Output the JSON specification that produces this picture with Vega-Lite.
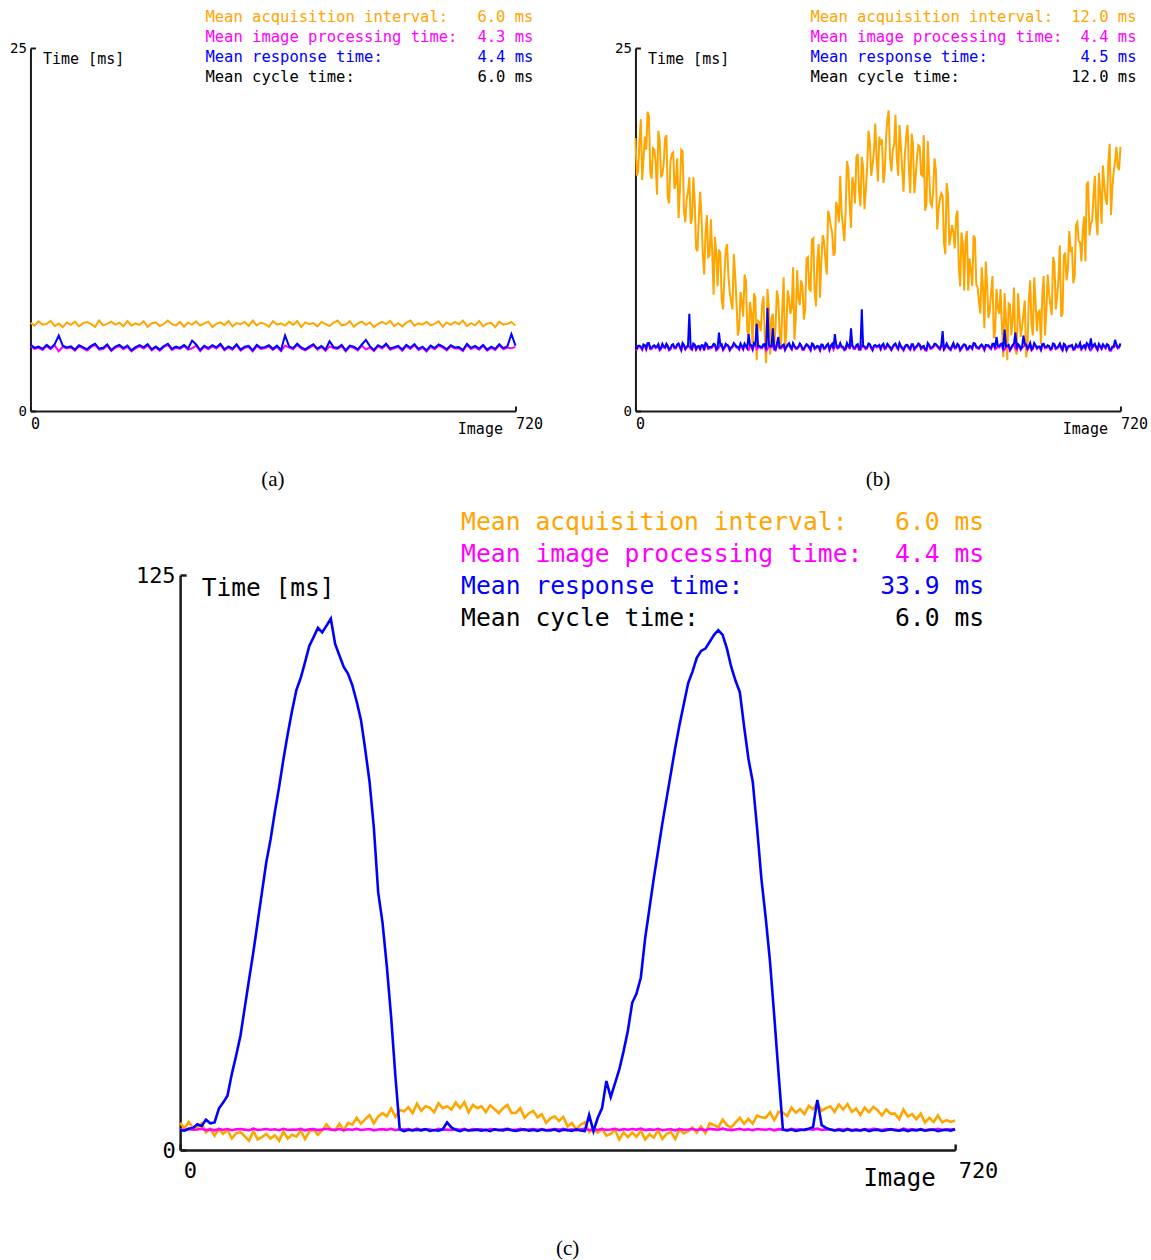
{
"$schema": "https://vega.github.io/schema/vega-lite/v6.json",
"padding": {"left": 9, "top": 10, "right": 0, "bottom": 4},
"background": "white",
"config": {"view": {"stroke": null}, "axis": {"grid": false, "domainColor": "#1a1a1a", "tickColor": "#1a1a1a", "labelColor": "#000000", "titleColor": "#000000", "labelFont": "DejaVu Sans Mono", "titleFont": "DejaVu Sans Mono", "titleFontWeight": "normal", "labelFlush": false}},
"datasets": {
"statsA": [{"stat": "Mean acquisition interval:", "val": "6.0 ms", "series": "acq"}, {"stat": "Mean image processing time:", "val": "4.3 ms", "series": "proc"}, {"stat": "Mean response time:", "val": "4.4 ms", "series": "resp"}, {"stat": "Mean cycle time:", "val": "6.0 ms", "series": "cycle"}],
"statsB": [{"stat": "Mean acquisition interval:", "val": "12.0 ms", "series": "acq"}, {"stat": "Mean image processing time:", "val": "4.4 ms", "series": "proc"}, {"stat": "Mean response time:", "val": "4.5 ms", "series": "resp"}, {"stat": "Mean cycle time:", "val": "12.0 ms", "series": "cycle"}],
"statsC": [{"stat": "Mean acquisition interval:", "val": "6.0 ms", "series": "acq"}, {"stat": "Mean image processing time:", "val": "4.4 ms", "series": "proc"}, {"stat": "Mean response time:", "val": "33.9 ms", "series": "resp"}, {"stat": "Mean cycle time:", "val": "6.0 ms", "series": "cycle"}],
"panelA": [
{"img":0,"acq":6.08,"proc":4.50,"resp":4.58},{"img":6,"acq":5.88,"proc":4.27,"resp":4.35},{"img":12,"acq":6.18,"proc":4.35,"resp":4.43},{"img":18,"acq":5.95,"proc":4.20,"resp":4.28},{"img":24,"acq":6.00,"proc":4.47,"resp":4.55},{"img":30,"acq":6.20,"proc":4.25,"resp":4.33},{"img":36,"acq":5.85,"proc":4.52,"resp":4.60},{"img":42,"acq":6.03,"proc":4.10,"resp":5.2},{"img":48,"acq":5.78,"proc":4.42,"resp":4.50},{"img":54,"acq":6.10,"proc":4.30,"resp":4.38},
{"img":60,"acq":5.93,"proc":4.37,"resp":4.45},{"img":66,"acq":6.15,"proc":4.15,"resp":4.23},{"img":72,"acq":5.83,"proc":4.45,"resp":4.53},{"img":78,"acq":6.05,"proc":4.32,"resp":4.40},{"img":84,"acq":6.13,"proc":4.17,"resp":4.25},{"img":90,"acq":5.98,"proc":4.40,"resp":4.48},{"img":96,"acq":5.80,"proc":4.55,"resp":4.63},{"img":102,"acq":6.23,"proc":4.22,"resp":4.30},{"img":108,"acq":5.90,"proc":4.27,"resp":4.35},{"img":114,"acq":6.00,"proc":4.50,"resp":4.58},
{"img":120,"acq":6.15,"proc":4.12,"resp":4.20},{"img":126,"acq":5.95,"proc":4.35,"resp":4.43},{"img":132,"acq":6.08,"proc":4.47,"resp":4.55},{"img":138,"acq":5.83,"proc":4.25,"resp":4.33},{"img":144,"acq":6.20,"proc":4.42,"resp":4.50},{"img":150,"acq":5.88,"proc":4.10,"resp":4.18},{"img":156,"acq":6.03,"proc":4.32,"resp":4.40},{"img":162,"acq":5.93,"proc":4.45,"resp":4.53},{"img":168,"acq":6.18,"proc":4.30,"resp":4.38},{"img":174,"acq":5.78,"proc":4.52,"resp":4.60},
{"img":180,"acq":6.05,"proc":4.17,"resp":4.25},{"img":186,"acq":6.10,"proc":4.37,"resp":4.45},{"img":192,"acq":5.85,"proc":4.15,"resp":4.23},{"img":198,"acq":6.00,"proc":4.40,"resp":4.48},{"img":204,"acq":6.23,"proc":4.55,"resp":4.63},{"img":210,"acq":5.98,"proc":4.20,"resp":4.28},{"img":216,"acq":5.90,"proc":4.35,"resp":4.43},{"img":222,"acq":6.13,"proc":4.27,"resp":4.35},{"img":228,"acq":5.80,"proc":4.47,"resp":4.55},{"img":234,"acq":6.08,"proc":4.22,"resp":4.30},
{"img":240,"acq":5.95,"proc":4.32,"resp":4.85},{"img":246,"acq":6.18,"proc":4.50,"resp":4.58},{"img":252,"acq":5.88,"proc":4.12,"resp":4.20},{"img":258,"acq":6.03,"proc":4.42,"resp":4.50},{"img":264,"acq":6.15,"proc":4.25,"resp":4.33},{"img":270,"acq":5.78,"proc":4.45,"resp":4.53},{"img":276,"acq":6.00,"proc":4.30,"resp":4.38},{"img":282,"acq":6.10,"proc":4.55,"resp":4.63},{"img":288,"acq":5.93,"proc":4.17,"resp":4.25},{"img":294,"acq":6.20,"proc":4.37,"resp":4.45},
{"img":300,"acq":5.83,"proc":4.22,"resp":4.30},{"img":306,"acq":6.05,"proc":4.52,"resp":4.60},{"img":312,"acq":5.98,"proc":4.15,"resp":4.23},{"img":318,"acq":6.13,"proc":4.35,"resp":4.43},{"img":324,"acq":5.85,"proc":4.40,"resp":4.48},{"img":330,"acq":6.23,"proc":4.10,"resp":4.18},{"img":336,"acq":5.90,"proc":4.47,"resp":4.55},{"img":342,"acq":6.08,"proc":4.27,"resp":4.35},{"img":348,"acq":6.00,"proc":4.32,"resp":4.40},{"img":354,"acq":5.80,"proc":4.45,"resp":4.53},
{"img":360,"acq":6.18,"proc":4.20,"resp":4.28},{"img":366,"acq":5.95,"proc":4.42,"resp":4.50},{"img":372,"acq":6.03,"proc":4.12,"resp":4.20},{"img":378,"acq":5.88,"proc":4.50,"resp":5.2},{"img":384,"acq":6.15,"proc":4.37,"resp":4.45},{"img":390,"acq":5.93,"proc":4.25,"resp":4.33},{"img":396,"acq":6.20,"proc":4.55,"resp":4.63},{"img":402,"acq":5.78,"proc":4.30,"resp":4.38},{"img":408,"acq":6.10,"proc":4.17,"resp":4.25},{"img":414,"acq":5.98,"proc":4.35,"resp":4.43},
{"img":420,"acq":6.05,"proc":4.52,"resp":4.60},{"img":426,"acq":5.83,"proc":4.22,"resp":4.30},{"img":432,"acq":6.13,"proc":4.40,"resp":4.48},{"img":438,"acq":6.00,"proc":4.15,"resp":4.23},{"img":444,"acq":5.85,"proc":4.45,"resp":4.8},{"img":450,"acq":6.08,"proc":4.32,"resp":4.40},{"img":456,"acq":6.23,"proc":4.27,"resp":4.35},{"img":462,"acq":5.90,"proc":4.47,"resp":4.55},{"img":468,"acq":5.95,"proc":4.10,"resp":4.18},{"img":474,"acq":6.18,"proc":4.42,"resp":4.50},
{"img":480,"acq":5.80,"proc":4.35,"resp":4.43},{"img":486,"acq":6.03,"proc":4.17,"resp":4.25},{"img":492,"acq":6.15,"proc":4.50,"resp":4.58},{"img":498,"acq":5.93,"proc":4.25,"resp":4.9},{"img":504,"acq":6.10,"proc":4.37,"resp":4.45},{"img":510,"acq":5.78,"proc":4.12,"resp":4.20},{"img":516,"acq":6.00,"proc":4.45,"resp":4.53},{"img":522,"acq":6.13,"proc":4.30,"resp":4.38},{"img":528,"acq":5.98,"proc":4.55,"resp":4.63},{"img":534,"acq":6.20,"proc":4.22,"resp":4.30},
{"img":540,"acq":5.85,"proc":4.32,"resp":4.40},{"img":546,"acq":6.05,"proc":4.40,"resp":4.48},{"img":552,"acq":5.83,"proc":4.15,"resp":4.23},{"img":558,"acq":6.08,"proc":4.47,"resp":4.55},{"img":564,"acq":6.23,"proc":4.27,"resp":4.35},{"img":570,"acq":5.88,"proc":4.52,"resp":4.60},{"img":576,"acq":6.03,"proc":4.20,"resp":4.28},{"img":582,"acq":5.95,"proc":4.35,"resp":4.43},{"img":588,"acq":6.15,"proc":4.10,"resp":4.18},{"img":594,"acq":5.90,"proc":4.42,"resp":4.50},
{"img":600,"acq":6.00,"proc":4.25,"resp":4.33},{"img":606,"acq":6.18,"proc":4.50,"resp":4.58},{"img":612,"acq":5.80,"proc":4.37,"resp":4.45},{"img":618,"acq":6.10,"proc":4.17,"resp":4.25},{"img":624,"acq":5.93,"proc":4.45,"resp":4.53},{"img":630,"acq":6.13,"proc":4.30,"resp":4.38},{"img":636,"acq":5.98,"proc":4.32,"resp":4.40},{"img":642,"acq":6.23,"proc":4.12,"resp":4.20},{"img":648,"acq":5.85,"proc":4.55,"resp":4.63},{"img":654,"acq":6.05,"proc":4.27,"resp":4.35},
{"img":660,"acq":5.90,"proc":4.40,"resp":4.48},{"img":666,"acq":6.20,"proc":4.22,"resp":4.30},{"img":672,"acq":5.83,"proc":4.47,"resp":4.55},{"img":678,"acq":6.03,"proc":4.15,"resp":4.23},{"img":684,"acq":6.08,"proc":4.35,"resp":4.43},{"img":690,"acq":5.78,"proc":4.20,"resp":4.28},{"img":696,"acq":6.15,"proc":4.52,"resp":4.60},{"img":702,"acq":5.95,"proc":4.25,"resp":4.33},{"img":708,"acq":6.00,"proc":4.37,"resp":4.45},{"img":714,"acq":6.13,"proc":4.32,"resp":5.3},
{"img":720,"acq":5.88,"proc":4.42,"resp":4.50}],
"panelB": [
{"img":0,"acq":18.8,"proc":4.20,"resp":4.28},{"img":4,"acq":16.5,"proc":4.42,"resp":4.50},{"img":8,"acq":20.1,"proc":4.35,"resp":4.43},{"img":12,"acq":17.4,"proc":4.50,"resp":4.58},{"img":16,"acq":18.0,"proc":4.22,"resp":4.30},{"img":20,"acq":20.3,"proc":4.60,"resp":4.68},{"img":24,"acq":16.0,"proc":4.27,"resp":4.35},{"img":28,"acq":18.0,"proc":4.45,"resp":4.53},{"img":32,"acq":14.9,"proc":4.37,"resp":4.45},{"img":36,"acq":18.6,"proc":4.17,"resp":4.25},
{"img":40,"acq":16.3,"proc":4.55,"resp":4.63},{"img":44,"acq":18.8,"proc":4.32,"resp":4.40},{"img":48,"acq":14.7,"proc":4.40,"resp":4.48},{"img":52,"acq":17.2,"proc":4.25,"resp":4.33},{"img":56,"acq":17.8,"proc":4.52,"resp":4.60},{"img":60,"acq":15.7,"proc":4.30,"resp":4.38},{"img":64,"acq":13.3,"proc":4.57,"resp":4.65},{"img":68,"acq":18.0,"proc":4.15,"resp":4.23},{"img":72,"acq":13.8,"proc":4.47,"resp":4.55},{"img":76,"acq":14.6,"proc":4.35,"resp":4.43},
{"img":80,"acq":16.1,"proc":4.42,"resp":6.7},{"img":84,"acq":13.3,"proc":4.20,"resp":4.28},{"img":88,"acq":14.4,"proc":4.50,"resp":4.58},{"img":92,"acq":11.0,"proc":4.37,"resp":4.45},{"img":96,"acq":15.1,"proc":4.22,"resp":4.30},{"img":100,"acq":10.8,"proc":4.45,"resp":4.53},{"img":104,"acq":12.2,"proc":4.60,"resp":4.68},{"img":108,"acq":10.6,"proc":4.27,"resp":4.35},{"img":112,"acq":13.2,"proc":4.32,"resp":4.40},{"img":116,"acq":8.0,"proc":4.55,"resp":4.63},
{"img":120,"acq":10.9,"proc":4.17,"resp":4.25},{"img":124,"acq":11.1,"proc":4.40,"resp":5.4},{"img":128,"acq":7.7,"proc":4.52,"resp":4.60},{"img":132,"acq":9.2,"proc":4.30,"resp":4.38},{"img":136,"acq":11.5,"proc":4.47,"resp":4.55},{"img":140,"acq":8.2,"proc":4.15,"resp":4.23},{"img":144,"acq":7.0,"proc":4.37,"resp":4.45},{"img":148,"acq":9.4,"proc":4.50,"resp":4.58},{"img":152,"acq":5.2,"proc":4.35,"resp":4.43},{"img":156,"acq":8.2,"proc":4.57,"resp":4.65},
{"img":160,"acq":6.5,"proc":4.22,"resp":4.30},{"img":164,"acq":9.0,"proc":4.42,"resp":4.50},{"img":168,"acq":5.2,"proc":4.20,"resp":5.3},{"img":172,"acq":6.8,"proc":4.45,"resp":4.53},{"img":176,"acq":8.1,"proc":4.60,"resp":4.68},{"img":180,"acq":3.5,"proc":4.25,"resp":6.0},{"img":184,"acq":6.1,"proc":4.40,"resp":4.48},{"img":188,"acq":7.3,"proc":4.32,"resp":4.40},{"img":192,"acq":5.1,"proc":4.52,"resp":4.60},{"img":196,"acq":8.4,"proc":4.27,"resp":7.1},
{"img":200,"acq":3.9,"proc":4.37,"resp":4.45},{"img":204,"acq":6.7,"proc":4.55,"resp":5.7},{"img":208,"acq":5.8,"proc":4.17,"resp":4.25},{"img":212,"acq":7.7,"proc":4.47,"resp":5.1},{"img":216,"acq":4.5,"proc":4.30,"resp":4.38},{"img":220,"acq":9.2,"proc":4.50,"resp":4.58},{"img":224,"acq":5.5,"proc":4.35,"resp":4.43},{"img":228,"acq":7.8,"proc":4.60,"resp":4.68},{"img":232,"acq":7.1,"proc":4.22,"resp":4.30},{"img":236,"acq":4.9,"proc":4.42,"resp":4.50},
{"img":240,"acq":9.7,"proc":4.27,"resp":4.35},{"img":244,"acq":7.3,"proc":4.57,"resp":4.65},{"img":248,"acq":8.5,"proc":4.20,"resp":4.28},{"img":252,"acq":7.0,"proc":4.40,"resp":4.48},{"img":256,"acq":10.6,"proc":4.45,"resp":4.53},{"img":260,"acq":8.3,"proc":4.15,"resp":4.23},{"img":264,"acq":11.9,"proc":4.52,"resp":4.60},{"img":268,"acq":7.2,"proc":4.32,"resp":4.40},{"img":272,"acq":11.5,"proc":4.37,"resp":4.45},{"img":276,"acq":10.4,"proc":4.50,"resp":4.58},
{"img":280,"acq":11.7,"proc":4.25,"resp":4.33},{"img":284,"acq":9.4,"proc":4.47,"resp":4.55},{"img":288,"acq":13.4,"proc":4.17,"resp":4.25},{"img":292,"acq":12.3,"proc":4.55,"resp":4.63},{"img":296,"acq":10.9,"proc":4.42,"resp":5.3},{"img":300,"acq":14.0,"proc":4.30,"resp":4.38},{"img":304,"acq":16.2,"proc":4.60,"resp":4.68},{"img":308,"acq":12.7,"proc":4.35,"resp":4.43},{"img":312,"acq":13.7,"proc":4.22,"resp":4.30},{"img":316,"acq":16.7,"proc":4.40,"resp":4.48},
{"img":320,"acq":12.6,"proc":4.57,"resp":5.7},{"img":324,"acq":15.6,"proc":4.27,"resp":4.35},{"img":328,"acq":17.5,"proc":4.45,"resp":4.53},{"img":332,"acq":15.1,"proc":4.20,"resp":4.28},{"img":336,"acq":17.5,"proc":4.50,"resp":7.0},{"img":340,"acq":13.9,"proc":4.37,"resp":4.45},{"img":344,"acq":16.8,"proc":4.32,"resp":4.40},{"img":348,"acq":18.5,"proc":4.52,"resp":4.60},{"img":352,"acq":16.9,"proc":4.15,"resp":4.23},{"img":356,"acq":19.8,"proc":4.47,"resp":4.55},
{"img":360,"acq":15.8,"proc":4.40,"resp":4.48},{"img":364,"acq":18.3,"proc":4.22,"resp":4.30},{"img":368,"acq":15.7,"proc":4.55,"resp":4.63},{"img":372,"acq":18.8,"proc":4.30,"resp":4.38},{"img":376,"acq":20.7,"proc":4.42,"resp":4.50},{"img":380,"acq":16.5,"proc":4.17,"resp":4.25},{"img":384,"acq":18.3,"proc":4.50,"resp":4.58},{"img":388,"acq":17.4,"proc":4.35,"resp":4.43},{"img":392,"acq":19.7,"proc":4.60,"resp":4.68},{"img":396,"acq":16.6,"proc":4.27,"resp":4.35},
{"img":400,"acq":17.7,"proc":4.37,"resp":4.45},{"img":404,"acq":19.7,"proc":4.45,"resp":4.53},{"img":408,"acq":15.0,"proc":4.20,"resp":4.28},{"img":412,"acq":18.4,"proc":4.52,"resp":4.60},{"img":416,"acq":16.1,"proc":4.32,"resp":4.40},{"img":420,"acq":18.3,"proc":4.57,"resp":4.65},{"img":424,"acq":16.3,"proc":4.25,"resp":4.33},{"img":428,"acq":19.0,"proc":4.40,"resp":4.48},{"img":432,"acq":14.2,"proc":4.15,"resp":4.23},{"img":436,"acq":16.3,"proc":4.47,"resp":4.55},
{"img":440,"acq":14.1,"proc":4.30,"resp":4.38},{"img":444,"acq":17.4,"proc":4.55,"resp":4.63},{"img":448,"acq":12.5,"proc":4.42,"resp":4.50},{"img":452,"acq":14.6,"proc":4.22,"resp":4.30},{"img":456,"acq":14.8,"proc":4.50,"resp":5.5},{"img":460,"acq":10.8,"proc":4.35,"resp":4.43},{"img":464,"acq":14.9,"proc":4.37,"resp":4.45},{"img":468,"acq":12.1,"proc":4.17,"resp":4.25},{"img":472,"acq":12.3,"proc":4.60,"resp":4.68},{"img":476,"acq":13.4,"proc":4.32,"resp":4.40},
{"img":480,"acq":10.0,"proc":4.45,"resp":4.53},{"img":484,"acq":12.3,"proc":4.27,"resp":4.35},{"img":488,"acq":8.3,"proc":4.52,"resp":4.60},{"img":492,"acq":12.4,"proc":4.20,"resp":4.28},{"img":496,"acq":10.5,"proc":4.40,"resp":4.48},{"img":500,"acq":8.6,"proc":4.25,"resp":4.33},{"img":504,"acq":11.9,"proc":4.57,"resp":4.65},{"img":508,"acq":8.5,"proc":4.30,"resp":4.38},{"img":512,"acq":6.7,"proc":4.42,"resp":4.50},{"img":516,"acq":8.5,"proc":4.37,"resp":4.45},
{"img":520,"acq":10.3,"proc":4.47,"resp":4.55},{"img":524,"acq":6.4,"proc":4.45,"resp":4.53},{"img":528,"acq":8.2,"proc":4.25,"resp":4.33},{"img":532,"acq":5.0,"proc":4.55,"resp":4.63},{"img":536,"acq":8.4,"proc":4.32,"resp":5.1},{"img":540,"acq":6.7,"proc":4.37,"resp":4.45},{"img":544,"acq":5.9,"proc":4.57,"resp":4.65},{"img":548,"acq":8.1,"proc":4.22,"resp":5.6},{"img":552,"acq":3.5,"proc":4.40,"resp":4.48},{"img":556,"acq":7.3,"proc":4.15,"resp":4.23},
{"img":560,"acq":6.4,"proc":4.47,"resp":4.55},{"img":564,"acq":4.2,"proc":4.30,"resp":5.4},{"img":568,"acq":8.1,"proc":4.52,"resp":4.60},{"img":572,"acq":5.1,"proc":4.20,"resp":4.28},{"img":576,"acq":6.7,"proc":4.42,"resp":5.2},{"img":580,"acq":3.7,"proc":4.50,"resp":4.58},{"img":584,"acq":7.7,"proc":4.35,"resp":4.43},{"img":588,"acq":6.0,"proc":4.17,"resp":4.25},{"img":592,"acq":9.2,"proc":4.60,"resp":4.68},{"img":596,"acq":5.5,"proc":4.27,"resp":4.35},
{"img":600,"acq":6.9,"proc":4.37,"resp":4.45},{"img":604,"acq":8.0,"proc":4.52,"resp":4.60},{"img":608,"acq":5.2,"proc":4.32,"resp":4.40},{"img":612,"acq":9.4,"proc":4.45,"resp":4.53},{"img":616,"acq":7.3,"proc":4.20,"resp":4.28},{"img":620,"acq":10.6,"proc":4.57,"resp":4.65},{"img":624,"acq":7.0,"proc":4.25,"resp":4.33},{"img":628,"acq":9.1,"proc":4.40,"resp":4.48},{"img":632,"acq":6.5,"proc":4.30,"resp":4.38},{"img":636,"acq":10.7,"proc":4.55,"resp":4.63},
{"img":640,"acq":9.0,"proc":4.15,"resp":4.23},{"img":644,"acq":12.4,"proc":4.42,"resp":4.50},{"img":648,"acq":11.3,"proc":4.47,"resp":4.55},{"img":652,"acq":9.3,"proc":4.22,"resp":4.30},{"img":656,"acq":13.0,"proc":4.37,"resp":4.45},{"img":660,"acq":11.6,"proc":4.60,"resp":4.68},{"img":664,"acq":12.3,"proc":4.35,"resp":4.43},{"img":668,"acq":10.3,"proc":4.27,"resp":4.35},{"img":672,"acq":15.8,"proc":4.50,"resp":4.58},{"img":676,"acq":12.9,"proc":4.17,"resp":5.0},
{"img":680,"acq":14.8,"proc":4.45,"resp":4.53},{"img":684,"acq":13.1,"proc":4.32,"resp":4.40},{"img":688,"acq":16.4,"proc":4.55,"resp":4.63},{"img":692,"acq":12.9,"proc":4.25,"resp":4.33},{"img":696,"acq":15.6,"proc":4.40,"resp":4.48},{"img":700,"acq":14.2,"proc":4.52,"resp":4.60},{"img":704,"acq":18.4,"proc":4.15,"resp":4.23},{"img":708,"acq":15.4,"proc":4.37,"resp":4.45},{"img":712,"acq":17.2,"proc":4.47,"resp":4.9},{"img":716,"acq":16.8,"proc":4.30,"resp":4.38},
{"img":720,"acq":18.2,"proc":4.57,"resp":4.65},
{"img":2,"acq":16.2,"proc":4.22,"resp":4.30},{"img":6,"acq":18.6,"proc":4.42,"resp":4.50},{"img":10,"acq":15.9,"proc":4.20,"resp":4.28},{"img":14,"acq":18.9,"proc":4.45,"resp":4.53},{"img":18,"acq":20.6,"proc":4.60,"resp":4.68},{"img":22,"acq":16.4,"proc":4.25,"resp":4.33},{"img":26,"acq":18.1,"proc":4.40,"resp":4.48},{"img":30,"acq":17.1,"proc":4.32,"resp":4.40},{"img":34,"acq":19.3,"proc":4.52,"resp":4.60},{"img":38,"acq":16.1,"proc":4.27,"resp":4.35},
{"img":42,"acq":17.1,"proc":4.37,"resp":4.45},{"img":46,"acq":19.0,"proc":4.55,"resp":4.63},{"img":50,"acq":14.3,"proc":4.17,"resp":4.25},{"img":54,"acq":17.7,"proc":4.47,"resp":4.55},{"img":58,"acq":15.3,"proc":4.30,"resp":4.38},{"img":62,"acq":17.4,"proc":4.50,"resp":4.58},{"img":66,"acq":15.2,"proc":4.35,"resp":4.43},{"img":70,"acq":17.9,"proc":4.60,"resp":4.68},{"img":74,"acq":13.0,"proc":4.22,"resp":4.30},{"img":78,"acq":15.1,"proc":4.42,"resp":4.50},
{"img":82,"acq":12.9,"proc":4.27,"resp":4.35},{"img":86,"acq":16.1,"proc":4.57,"resp":4.65},{"img":90,"acq":11.2,"proc":4.20,"resp":4.28},{"img":94,"acq":13.2,"proc":4.40,"resp":4.48},{"img":98,"acq":13.4,"proc":4.45,"resp":4.53},{"img":102,"acq":9.4,"proc":4.15,"resp":4.23},{"img":106,"acq":13.5,"proc":4.52,"resp":4.60},{"img":110,"acq":10.7,"proc":4.32,"resp":4.40},{"img":114,"acq":10.9,"proc":4.37,"resp":4.45},{"img":118,"acq":12.0,"proc":4.50,"resp":4.58},
{"img":122,"acq":8.6,"proc":4.25,"resp":4.33},{"img":126,"acq":10.9,"proc":4.47,"resp":4.55},{"img":130,"acq":7.0,"proc":4.17,"resp":4.25},{"img":134,"acq":11.1,"proc":4.55,"resp":4.63},{"img":138,"acq":9.3,"proc":4.42,"resp":4.50},{"img":142,"acq":7.5,"proc":4.30,"resp":4.38},{"img":146,"acq":10.8,"proc":4.60,"resp":4.68},{"img":150,"acq":7.5,"proc":4.35,"resp":4.43},{"img":154,"acq":5.7,"proc":4.22,"resp":4.30},{"img":158,"acq":7.5,"proc":4.40,"resp":4.48},
{"img":162,"acq":9.4,"proc":4.57,"resp":4.65},{"img":166,"acq":5.6,"proc":4.27,"resp":4.35},{"img":170,"acq":7.5,"proc":4.45,"resp":4.53},{"img":174,"acq":4.3,"proc":4.20,"resp":4.28},{"img":178,"acq":7.8,"proc":4.50,"resp":4.58},{"img":182,"acq":6.2,"proc":4.37,"resp":4.45},{"img":186,"acq":5.5,"proc":4.32,"resp":4.40},{"img":190,"acq":7.9,"proc":4.52,"resp":4.60},{"img":194,"acq":3.3,"proc":4.15,"resp":4.23},{"img":198,"acq":7.2,"proc":4.47,"resp":4.55},
{"img":202,"acq":6.4,"proc":4.40,"resp":4.48},{"img":206,"acq":4.3,"proc":4.22,"resp":4.30},{"img":210,"acq":8.3,"proc":4.55,"resp":4.63},{"img":214,"acq":5.4,"proc":4.30,"resp":4.38},{"img":218,"acq":7.0,"proc":4.42,"resp":4.50},{"img":222,"acq":4.2,"proc":4.17,"resp":4.25},{"img":226,"acq":8.3,"proc":4.50,"resp":4.58},{"img":230,"acq":6.7,"proc":4.35,"resp":4.43},{"img":234,"acq":9.9,"proc":4.60,"resp":4.68},{"img":238,"acq":6.3,"proc":4.27,"resp":4.35},
{"img":242,"acq":7.8,"proc":4.37,"resp":4.45},{"img":246,"acq":9.0,"proc":4.45,"resp":4.53},{"img":250,"acq":6.3,"proc":4.20,"resp":4.28},{"img":254,"acq":10.5,"proc":4.52,"resp":4.60},{"img":258,"acq":8.4,"proc":4.32,"resp":4.40},{"img":262,"acq":11.8,"proc":4.57,"resp":4.65},{"img":266,"acq":8.2,"proc":4.25,"resp":4.33},{"img":270,"acq":10.4,"proc":4.40,"resp":4.48},{"img":274,"acq":7.8,"proc":4.15,"resp":4.23},{"img":278,"acq":12.1,"proc":4.47,"resp":4.55},
{"img":282,"acq":10.4,"proc":4.30,"resp":4.38},{"img":286,"acq":13.8,"proc":4.55,"resp":4.63},{"img":290,"acq":12.7,"proc":4.42,"resp":4.50},{"img":294,"acq":10.7,"proc":4.22,"resp":4.30},{"img":298,"acq":14.4,"proc":4.50,"resp":4.58},{"img":302,"acq":13.0,"proc":4.35,"resp":4.43},{"img":306,"acq":13.7,"proc":4.37,"resp":4.45},{"img":310,"acq":11.7,"proc":4.17,"resp":4.25},{"img":314,"acq":17.2,"proc":4.60,"resp":4.68},{"img":318,"acq":14.2,"proc":4.32,"resp":4.40},
{"img":322,"acq":16.1,"proc":4.45,"resp":4.53},{"img":326,"acq":14.3,"proc":4.27,"resp":4.35},{"img":330,"acq":17.7,"proc":4.52,"resp":4.60},{"img":334,"acq":14.1,"proc":4.20,"resp":4.28},{"img":338,"acq":16.8,"proc":4.40,"resp":4.48},{"img":342,"acq":15.2,"proc":4.25,"resp":4.33},{"img":346,"acq":19.3,"proc":4.57,"resp":4.65},{"img":350,"acq":16.2,"proc":4.30,"resp":4.38},{"img":354,"acq":17.9,"proc":4.42,"resp":4.50},{"img":358,"acq":17.5,"proc":4.37,"resp":4.45},
{"img":362,"acq":18.9,"proc":4.47,"resp":4.55},{"img":366,"acq":18.7,"proc":4.45,"resp":4.53},{"img":370,"acq":16.4,"proc":4.25,"resp":4.33},{"img":374,"acq":20.1,"proc":4.55,"resp":4.63},{"img":378,"acq":17.4,"proc":4.32,"resp":4.40},{"img":382,"acq":18.0,"proc":4.37,"resp":4.45},{"img":386,"acq":20.4,"proc":4.57,"resp":4.65},{"img":390,"acq":16.2,"proc":4.22,"resp":4.30},{"img":394,"acq":18.2,"proc":4.40,"resp":4.48},{"img":398,"acq":15.1,"proc":4.15,"resp":4.23},
{"img":402,"acq":18.9,"proc":4.47,"resp":4.55},{"img":406,"acq":16.6,"proc":4.30,"resp":4.38},{"img":410,"acq":19.1,"proc":4.52,"resp":4.60},{"img":414,"acq":15.0,"proc":4.20,"resp":4.28},{"img":418,"acq":17.5,"proc":4.42,"resp":4.50},{"img":422,"acq":18.2,"proc":4.50,"resp":4.58},{"img":426,"acq":16.2,"proc":4.35,"resp":4.43},{"img":430,"acq":13.8,"proc":4.17,"resp":4.25},{"img":434,"acq":18.6,"proc":4.60,"resp":4.68},{"img":438,"acq":14.3,"proc":4.27,"resp":4.35},
{"img":442,"acq":15.2,"proc":4.37,"resp":4.45},{"img":446,"acq":16.6,"proc":4.52,"resp":4.60},{"img":450,"acq":13.9,"proc":4.32,"resp":4.40},{"img":454,"acq":15.0,"proc":4.45,"resp":4.53},{"img":458,"acq":11.6,"proc":4.20,"resp":4.28},{"img":462,"acq":15.7,"proc":4.57,"resp":4.65},{"img":466,"acq":11.4,"proc":4.25,"resp":4.33},{"img":470,"acq":12.8,"proc":4.40,"resp":4.48},{"img":474,"acq":11.2,"proc":4.30,"resp":4.38},{"img":478,"acq":13.8,"proc":4.55,"resp":4.63},
{"img":482,"acq":8.6,"proc":4.15,"resp":4.23},{"img":486,"acq":11.5,"proc":4.42,"resp":4.50},{"img":490,"acq":11.7,"proc":4.47,"resp":4.55},{"img":494,"acq":8.3,"proc":4.22,"resp":4.30},{"img":498,"acq":9.7,"proc":4.37,"resp":4.45},{"img":502,"acq":12.1,"proc":4.60,"resp":4.68},{"img":506,"acq":8.7,"proc":4.35,"resp":4.43},{"img":510,"acq":7.5,"proc":4.27,"resp":4.35},{"img":514,"acq":9.9,"proc":4.50,"resp":4.58},{"img":518,"acq":5.7,"proc":4.17,"resp":4.25},
{"img":522,"acq":8.7,"proc":4.45,"resp":4.53},{"img":526,"acq":6.9,"proc":4.32,"resp":4.40},{"img":530,"acq":9.3,"proc":4.55,"resp":4.63},{"img":534,"acq":5.5,"proc":4.25,"resp":4.33},{"img":538,"acq":7.1,"proc":4.40,"resp":4.48},{"img":542,"acq":8.4,"proc":4.52,"resp":4.60},{"img":546,"acq":3.7,"proc":4.15,"resp":4.23},{"img":550,"acq":6.3,"proc":4.37,"resp":4.45},{"img":554,"acq":7.4,"proc":4.47,"resp":4.55},{"img":558,"acq":5.2,"proc":4.30,"resp":4.38},
{"img":562,"acq":8.5,"proc":4.57,"resp":4.65},{"img":566,"acq":3.9,"proc":4.20,"resp":4.28},{"img":570,"acq":6.6,"proc":4.42,"resp":4.50},{"img":574,"acq":5.8,"proc":4.35,"resp":4.43},{"img":578,"acq":7.6,"proc":4.50,"resp":4.58},{"img":582,"acq":4.4,"proc":4.22,"resp":4.30},{"img":586,"acq":9.0,"proc":4.60,"resp":4.68},{"img":590,"acq":5.2,"proc":4.27,"resp":4.35},{"img":594,"acq":7.5,"proc":4.45,"resp":4.53},{"img":598,"acq":6.8,"proc":4.37,"resp":4.45},
{"img":602,"acq":4.6,"proc":4.17,"resp":4.25},{"img":606,"acq":9.3,"proc":4.55,"resp":4.63},{"img":610,"acq":6.9,"proc":4.32,"resp":4.40},{"img":614,"acq":8.1,"proc":4.40,"resp":4.48},{"img":618,"acq":6.6,"proc":4.25,"resp":4.33},{"img":622,"acq":10.2,"proc":4.52,"resp":4.60},{"img":626,"acq":7.8,"proc":4.30,"resp":4.38},{"img":630,"acq":11.4,"proc":4.57,"resp":4.65},{"img":634,"acq":6.7,"proc":4.15,"resp":4.23},{"img":638,"acq":10.9,"proc":4.47,"resp":4.55},
{"img":642,"acq":9.8,"proc":4.35,"resp":4.43},{"img":646,"acq":11.1,"proc":4.42,"resp":4.50},{"img":650,"acq":8.8,"proc":4.20,"resp":4.28},{"img":654,"acq":12.8,"proc":4.50,"resp":4.58},{"img":658,"acq":11.7,"proc":4.37,"resp":4.45},{"img":662,"acq":10.3,"proc":4.22,"resp":4.30},{"img":666,"acq":13.4,"proc":4.45,"resp":4.53},{"img":670,"acq":15.6,"proc":4.60,"resp":4.68},{"img":674,"acq":12.1,"proc":4.27,"resp":4.35},{"img":678,"acq":13.1,"proc":4.32,"resp":4.40},
{"img":682,"acq":16.2,"proc":4.55,"resp":4.63},{"img":686,"acq":12.1,"proc":4.17,"resp":4.25},{"img":690,"acq":15.1,"proc":4.40,"resp":4.48},{"img":694,"acq":16.9,"proc":4.52,"resp":4.60},{"img":698,"acq":14.6,"proc":4.30,"resp":4.38},{"img":702,"acq":17.1,"proc":4.47,"resp":4.55},{"img":706,"acq":13.5,"proc":4.15,"resp":4.23},{"img":710,"acq":16.5,"proc":4.37,"resp":4.45},{"img":714,"acq":18.2,"proc":4.50,"resp":4.58},{"img":718,"acq":16.6,"proc":4.35,"resp":4.43}],
"panelC": [
{"img":0,"acq":5.9,"proc":4.51,"resp":4.3},{"img":4,"acq":4.7,"proc":4.35,"resp":4.2},{"img":8,"acq":6.1,"proc":4.59,"resp":4.6},{"img":12,"acq":4.8,"proc":4.41,"resp":4.8},{"img":16,"acq":4.9,"proc":4.45,"resp":5.6},{"img":20,"acq":5.8,"proc":4.61,"resp":5.2},{"img":24,"acq":3.8,"proc":4.33,"resp":6.6},{"img":28,"acq":4.6,"proc":4.47,"resp":5.8},{"img":32,"acq":3.1,"proc":4.27,"resp":6.0},{"img":36,"acq":4.6,"proc":4.53,"resp":9.0},
{"img":40,"acq":3.5,"proc":4.39,"resp":10.3},{"img":44,"acq":4.4,"proc":4.57,"resp":11.8},{"img":48,"acq":2.5,"proc":4.31,"resp":16.5},{"img":52,"acq":3.6,"proc":4.49,"resp":20.5},{"img":56,"acq":3.9,"proc":4.55,"resp":24.8},{"img":60,"acq":3.0,"proc":4.43,"resp":30.9},{"img":64,"acq":2.0,"proc":4.29,"resp":37},{"img":68,"acq":4.1,"proc":4.63,"resp":43},{"img":72,"acq":2.3,"proc":4.37,"resp":49.5},{"img":76,"acq":2.8,"proc":4.45,"resp":56},
{"img":80,"acq":3.5,"proc":4.57,"resp":62.5},{"img":84,"acq":2.5,"proc":4.41,"resp":67.5},{"img":88,"acq":3.2,"proc":4.51,"resp":73.5},{"img":92,"acq":2.0,"proc":4.31,"resp":79},{"img":96,"acq":4.0,"proc":4.61,"resp":85},{"img":100,"acq":2.5,"proc":4.35,"resp":90.5},{"img":104,"acq":3.3,"proc":4.47,"resp":95.5},{"img":108,"acq":2.9,"proc":4.39,"resp":100},{"img":112,"acq":4.3,"proc":4.59,"resp":102.6},{"img":116,"acq":2.4,"proc":4.27,"resp":106},
{"img":120,"acq":4.0,"proc":4.49,"resp":109.6},{"img":124,"acq":4.4,"proc":4.53,"resp":111.5},{"img":128,"acq":3.3,"proc":4.33,"resp":113.5},{"img":132,"acq":4.3,"proc":4.45,"resp":112.5},{"img":136,"acq":5.6,"proc":4.63,"resp":114},{"img":140,"acq":4.5,"proc":4.43,"resp":115.5},{"img":144,"acq":4.3,"proc":4.37,"resp":110},{"img":148,"acq":5.7,"proc":4.55,"resp":107.5},{"img":152,"acq":4.3,"proc":4.29,"resp":105},{"img":156,"acq":5.9,"proc":4.51,"resp":103.5},
{"img":160,"acq":5.5,"proc":4.41,"resp":101},{"img":164,"acq":7.0,"proc":4.59,"resp":97.5},{"img":168,"acq":5.7,"proc":4.35,"resp":93.5},{"img":172,"acq":6.7,"proc":4.47,"resp":87},{"img":176,"acq":7.6,"proc":4.57,"resp":80},{"img":180,"acq":5.8,"proc":4.27,"resp":70},{"img":184,"acq":7.3,"proc":4.45,"resp":56},{"img":188,"acq":8.0,"proc":4.53,"resp":49.5},{"img":192,"acq":7.3,"proc":4.39,"resp":40},{"img":196,"acq":9.0,"proc":4.61,"resp":29},
{"img":200,"acq":7.2,"proc":4.31,"resp":16},{"img":204,"acq":8.7,"proc":4.49,"resp":4.5},{"img":208,"acq":8.4,"proc":4.43,"resp":4.10},{"img":212,"acq":9.3,"proc":4.55,"resp":4.40},{"img":216,"acq":8.0,"proc":4.33,"resp":4.23},{"img":220,"acq":10.1,"proc":4.63,"resp":4.43},{"img":224,"acq":8.5,"proc":4.37,"resp":4.28},{"img":228,"acq":9.5,"proc":4.51,"resp":4.53},{"img":232,"acq":9.2,"proc":4.45,"resp":4.15},{"img":236,"acq":8.2,"proc":4.29,"resp":4.35},
{"img":240,"acq":10.2,"proc":4.59,"resp":4.20},{"img":244,"acq":9.1,"proc":4.41,"resp":4.50},{"img":248,"acq":9.5,"proc":4.47,"resp":6.0},{"img":252,"acq":8.8,"proc":4.35,"resp":4.9},{"img":256,"acq":10.3,"proc":4.57,"resp":4.38},{"img":260,"acq":9.1,"proc":4.39,"resp":4.08},{"img":264,"acq":10.4,"proc":4.61,"resp":4.45},{"img":268,"acq":8.2,"proc":4.27,"resp":4.25},{"img":272,"acq":9.8,"proc":4.53,"resp":4.30},{"img":276,"acq":9.1,"proc":4.43,"resp":4.43},
{"img":280,"acq":9.5,"proc":4.49,"resp":4.18},{"img":284,"acq":8.2,"proc":4.31,"resp":4.40},{"img":288,"acq":9.7,"proc":4.55,"resp":4.10},{"img":292,"acq":8.9,"proc":4.45,"resp":4.48},{"img":296,"acq":8.0,"proc":4.33,"resp":4.35},{"img":300,"acq":9.1,"proc":4.51,"resp":4.23},{"img":304,"acq":9.8,"proc":4.63,"resp":4.53},{"img":308,"acq":8.0,"proc":4.37,"resp":4.28},{"img":312,"acq":8.1,"proc":4.41,"resp":4.15},{"img":316,"acq":9.1,"proc":4.59,"resp":4.33},
{"img":320,"acq":7.0,"proc":4.29,"resp":4.50},{"img":324,"acq":8.0,"proc":4.47,"resp":4.20},{"img":328,"acq":8.5,"proc":4.57,"resp":4.38},{"img":332,"acq":7.1,"proc":4.39,"resp":4.13},{"img":336,"acq":7.8,"proc":4.53,"resp":4.43},{"img":340,"acq":5.9,"proc":4.27,"resp":4.30},{"img":344,"acq":6.9,"proc":4.45,"resp":4.25},{"img":348,"acq":7.3,"proc":4.55,"resp":4.45},{"img":352,"acq":6.3,"proc":4.43,"resp":4.08},{"img":356,"acq":7.2,"proc":4.61,"resp":4.40},
{"img":360,"acq":5.1,"proc":4.33,"resp":4.33},{"img":364,"acq":5.9,"proc":4.49,"resp":4.15},{"img":368,"acq":4.4,"proc":4.31,"resp":4.48},{"img":372,"acq":5.5,"proc":4.51,"resp":4.23},{"img":376,"acq":6.0,"proc":4.63,"resp":4.1},{"img":380,"acq":3.9,"proc":4.35,"resp":7.6},{"img":384,"acq":4.4,"proc":4.47,"resp":4.1},{"img":388,"acq":3.8,"proc":4.41,"resp":7.0},{"img":392,"acq":4.6,"proc":4.57,"resp":9.1},{"img":396,"acq":3.1,"proc":4.37,"resp":15.0},
{"img":400,"acq":3.5,"proc":4.45,"resp":11.5},{"img":404,"acq":4.4,"proc":4.59,"resp":14.5},{"img":408,"acq":2.3,"proc":4.29,"resp":17.5},{"img":412,"acq":3.8,"proc":4.53,"resp":21.5},{"img":416,"acq":2.8,"proc":4.39,"resp":26},{"img":420,"acq":3.8,"proc":4.55,"resp":32},{"img":424,"acq":2.9,"proc":4.43,"resp":34},{"img":428,"acq":4.2,"proc":4.63,"resp":37.5},{"img":432,"acq":2.3,"proc":4.33,"resp":46},{"img":436,"acq":3.4,"proc":4.49,"resp":52.5},
{"img":440,"acq":2.7,"proc":4.37,"resp":59},{"img":444,"acq":4.3,"proc":4.61,"resp":65},{"img":448,"acq":2.4,"proc":4.31,"resp":71},{"img":452,"acq":3.5,"proc":4.47,"resp":76.5},{"img":456,"acq":3.9,"proc":4.51,"resp":82},{"img":460,"acq":2.4,"proc":4.27,"resp":87.5},{"img":464,"acq":4.5,"proc":4.57,"resp":92.5},{"img":468,"acq":3.6,"proc":4.41,"resp":97},{"img":472,"acq":4.1,"proc":4.45,"resp":101.5},{"img":476,"acq":4.9,"proc":4.55,"resp":104},
{"img":480,"acq":3.8,"proc":4.35,"resp":107},{"img":484,"acq":5.1,"proc":4.53,"resp":108.5},{"img":488,"acq":3.7,"proc":4.29,"resp":109},{"img":492,"acq":5.8,"proc":4.59,"resp":110.5},{"img":496,"acq":5.4,"proc":4.49,"resp":112},{"img":500,"acq":4.9,"proc":4.39,"resp":113},{"img":504,"acq":6.6,"proc":4.63,"resp":112},{"img":508,"acq":5.4,"proc":4.43,"resp":109},{"img":512,"acq":4.9,"proc":4.33,"resp":105},{"img":516,"acq":6.0,"proc":4.47,"resp":102},
{"img":520,"acq":7.0,"proc":4.61,"resp":99.5},{"img":524,"acq":5.7,"proc":4.37,"resp":92},{"img":528,"acq":6.8,"proc":4.51,"resp":85},{"img":532,"acq":5.7,"proc":4.31,"resp":80},{"img":536,"acq":7.5,"proc":4.55,"resp":70},{"img":540,"acq":7.1,"proc":4.45,"resp":59},{"img":544,"acq":7.0,"proc":4.41,"resp":50.5},{"img":548,"acq":8.2,"proc":4.57,"resp":41},{"img":552,"acq":6.5,"proc":4.27,"resp":29},{"img":556,"acq":8.3,"proc":4.53,"resp":16.5},
{"img":560,"acq":8.1,"proc":4.47,"resp":4.4},{"img":564,"acq":7.4,"proc":4.33,"resp":4.23},{"img":568,"acq":9.2,"proc":4.59,"resp":4.45},{"img":572,"acq":8.1,"proc":4.39,"resp":4.13},{"img":576,"acq":8.9,"proc":4.49,"resp":4.35},{"img":580,"acq":7.8,"proc":4.29,"resp":4.43},{"img":584,"acq":9.6,"proc":4.55,"resp":4.6},{"img":588,"acq":8.9,"proc":4.43,"resp":5.0},{"img":592,"acq":10.2,"proc":4.63,"resp":10.9},{"img":596,"acq":8.5,"proc":4.37,"resp":5.4},
{"img":600,"acq":9.1,"proc":4.45,"resp":4.8},{"img":604,"acq":9.5,"proc":4.51,"resp":4.45},{"img":608,"acq":8.3,"proc":4.31,"resp":4.25},{"img":612,"acq":9.9,"proc":4.57,"resp":4.38},{"img":616,"acq":8.8,"proc":4.41,"resp":4.13},{"img":620,"acq":10.0,"proc":4.61,"resp":4.50},{"img":624,"acq":8.3,"proc":4.35,"resp":4.18},{"img":628,"acq":9.0,"proc":4.47,"resp":4.33},{"img":632,"acq":7.6,"proc":4.27,"resp":4.23},{"img":636,"acq":9.2,"proc":4.53,"resp":4.48},
{"img":640,"acq":8.2,"proc":4.39,"resp":4.08},{"img":644,"acq":9.4,"proc":4.59,"resp":4.35},{"img":648,"acq":8.6,"proc":4.49,"resp":4.40},{"img":652,"acq":7.5,"proc":4.33,"resp":4.15},{"img":656,"acq":8.8,"proc":4.55,"resp":4.30},{"img":660,"acq":7.9,"proc":4.43,"resp":4.53},{"img":664,"acq":7.9,"proc":4.45,"resp":4.28},{"img":668,"acq":6.7,"proc":4.29,"resp":4.20},{"img":672,"acq":8.8,"proc":4.63,"resp":4.43},{"img":676,"acq":7.3,"proc":4.41,"resp":4.10},
{"img":680,"acq":7.8,"proc":4.51,"resp":4.38},{"img":684,"acq":6.7,"proc":4.37,"resp":4.25},{"img":688,"acq":7.9,"proc":4.57,"resp":4.48},{"img":692,"acq":6.0,"proc":4.31,"resp":4.18},{"img":696,"acq":7.0,"proc":4.47,"resp":4.33},{"img":700,"acq":6.1,"proc":4.35,"resp":4.45},{"img":704,"acq":7.5,"proc":4.61,"resp":4.08},{"img":708,"acq":6.0,"proc":4.39,"resp":4.30},{"img":712,"acq":6.5,"proc":4.49,"resp":4.40},{"img":716,"acq":6.1,"proc":4.45,"resp":4.23},
{"img":720,"acq":6.4,"proc":4.53,"resp":4.50}]
},
"vconcat": [
{
"hconcat": [
{
"width": 485, "height": 363,
"title": {"text": "(a)", "orient": "bottom", "anchor": "middle", "offset": 33, "font": "Liberation Serif", "fontSize": 21, "fontWeight": "normal", "color": "#000000"},
"resolve": {"scale": {"y": "independent"}},
"layer": [
{"data": {"name": "panelA"}, "transform": [{"fold": ["acq", "proc", "resp"], "as": ["series", "ms"]}],
"mark": {"type": "line", "strokeWidth": 2},
"encoding": {
"x": {"field": "img", "type": "quantitative", "scale": {"domain": [0, 720], "nice": false, "zero": false}, "axis": {"values": [0, 720], "title": "Image", "titleX": 472, "titleY": 17, "titleAlign": "right", "titleBaseline": "middle", "titleFontSize": 15, "labelFontSize": 15, "labelAlign": "left", "labelBaseline": "middle", "labelPadding": 17, "labelOffset": 0, "tickSize": -5, "tickWidth": 2, "domainWidth": 2}},
"y": {"field": "ms", "type": "quantitative", "scale": {"domain": [0, 25], "nice": false}, "axis": {"values": [0, 25], "title": "Time [ms]", "titleAngle": 0, "titleX": 12, "titleY": 10, "titleAlign": "left", "titleBaseline": "middle", "titleFontSize": 15, "labelFontSize": 14, "labelBaseline": "middle", "labelPadding": 9, "tickSize": -5, "tickWidth": 2, "domainWidth": 2}},
"color": {"field": "series", "type": "nominal", "scale": {"domain": ["acq", "proc", "resp", "cycle"], "range": ["#FFA500", "#FF00FF", "#0000FF", "#000000"]}, "legend": null}
}},
{"data": {"name": "statsA"},
"encoding": {
"y": {"field": "stat", "type": "nominal", "sort": null, "axis": null, "scale": {"type": "point", "range": [-31, 29], "padding": 0}},
"color": {"field": "series", "type": "nominal", "scale": {"domain": ["acq", "proc", "resp", "cycle"], "range": ["#FFA500", "#FF00FF", "#0000FF", "#000000"]}, "legend": null}
},
"layer": [
{"mark": {"type": "text", "align": "left", "baseline": "middle", "font": "DejaVu Sans Mono", "fontSize": 15.5}, "encoding": {"x": {"datum": 259.8, "type": "quantitative"}, "text": {"field": "stat"}}},
{"mark": {"type": "text", "align": "right", "baseline": "middle", "font": "DejaVu Sans Mono", "fontSize": 15.5}, "encoding": {"x": {"datum": 746.7, "type": "quantitative"}, "text": {"field": "val"}}}
]}
]
},
{
"width": 485, "height": 363,
"title": {"text": "(b)", "orient": "bottom", "anchor": "middle", "offset": 33, "font": "Liberation Serif", "fontSize": 21, "fontWeight": "normal", "color": "#000000"},
"resolve": {"scale": {"y": "independent"}},
"layer": [
{"data": {"name": "panelB"}, "transform": [{"fold": ["acq", "proc", "resp"], "as": ["series", "ms"]}],
"mark": {"type": "line", "strokeWidth": 2},
"encoding": {
"x": {"field": "img", "type": "quantitative", "scale": {"domain": [0, 720], "nice": false, "zero": false}, "axis": {"values": [0, 720], "title": "Image", "titleX": 472, "titleY": 17, "titleAlign": "right", "titleBaseline": "middle", "titleFontSize": 15, "labelFontSize": 15, "labelAlign": "left", "labelBaseline": "middle", "labelPadding": 17, "labelOffset": 0, "labelExpr": "datum.value == 720 ? '720  ' : datum.label", "tickSize": -5, "tickWidth": 2, "domainWidth": 2}},
"y": {"field": "ms", "type": "quantitative", "scale": {"domain": [0, 25], "nice": false}, "axis": {"values": [0, 25], "title": "Time [ms]", "titleAngle": 0, "titleX": 12, "titleY": 10, "titleAlign": "left", "titleBaseline": "middle", "titleFontSize": 15, "labelFontSize": 14, "labelBaseline": "middle", "labelPadding": 9, "tickSize": -5, "tickWidth": 2, "domainWidth": 2}},
"color": {"field": "series", "type": "nominal", "scale": {"domain": ["acq", "proc", "resp", "cycle"], "range": ["#FFA500", "#FF00FF", "#0000FF", "#000000"]}, "legend": null}
}},
{"data": {"name": "statsB"},
"encoding": {
"y": {"field": "stat", "type": "nominal", "sort": null, "axis": null, "scale": {"type": "point", "range": [-31, 29], "padding": 0}},
"color": {"field": "series", "type": "nominal", "scale": {"domain": ["acq", "proc", "resp", "cycle"], "range": ["#FFA500", "#FF00FF", "#0000FF", "#000000"]}, "legend": null}
},
"layer": [
{"mark": {"type": "text", "align": "left", "baseline": "middle", "font": "DejaVu Sans Mono", "fontSize": 15.5}, "encoding": {"x": {"datum": 259.8, "type": "quantitative"}, "text": {"field": "stat"}}},
{"mark": {"type": "text", "align": "right", "baseline": "middle", "font": "DejaVu Sans Mono", "fontSize": 15.5}, "encoding": {"x": {"datum": 743.8, "type": "quantitative"}, "text": {"field": "val"}}}
]}
]
}
],
"spacing": 120,
"bounds": "flush"
},
{
"width": 775, "height": 575,
"title": {"text": "(c)", "orient": "bottom", "anchor": "middle", "offset": 48, "font": "Liberation Serif", "fontSize": 21, "fontWeight": "normal", "color": "#000000"},
"resolve": {"scale": {"y": "independent"}},
"layer": [
{"data": {"name": "panelC"}, "transform": [{"fold": ["acq", "proc", "resp"], "as": ["series", "ms"]}],
"mark": {"type": "line", "strokeWidth": 2.6},
"encoding": {
"x": {"field": "img", "type": "quantitative", "scale": {"domain": [0, 720], "nice": false, "zero": false}, "axis": {"values": [0, 720], "title": "Image", "titleX": 755, "titleY": 28, "titleAlign": "right", "titleBaseline": "middle", "titleFontSize": 24, "labelFontSize": 22, "labelAlign": "left", "labelBaseline": "middle", "labelPadding": 26, "labelOffset": 3, "tickSize": -6, "tickWidth": 2.5, "domainWidth": 2.5}},
"y": {"field": "ms", "type": "quantitative", "scale": {"domain": [0, 125], "nice": false}, "axis": {"values": [0, 125], "title": "Time [ms]", "titleAngle": 0, "titleX": 21, "titleY": 13, "titleAlign": "left", "titleBaseline": "middle", "titleFontSize": 24.5, "labelFontSize": 22, "labelBaseline": "middle", "labelPadding": 11, "tickSize": -6, "tickWidth": 2.5, "domainWidth": 2.5}},
"color": {"field": "series", "type": "nominal", "scale": {"domain": ["acq", "proc", "resp", "cycle"], "range": ["#FFA500", "#FF00FF", "#0000FF", "#000000"]}, "legend": null}
}},
{"data": {"name": "statsC"},
"encoding": {
"y": {"field": "stat", "type": "nominal", "sort": null, "axis": null, "scale": {"type": "point", "range": [-52, 44], "padding": 0}},
"color": {"field": "series", "type": "nominal", "scale": {"domain": ["acq", "proc", "resp", "cycle"], "range": ["#FFA500", "#FF00FF", "#0000FF", "#000000"]}, "legend": null}
},
"layer": [
{"mark": {"type": "text", "align": "left", "baseline": "middle", "font": "DejaVu Sans Mono", "fontSize": 24.7}, "encoding": {"x": {"datum": 261, "type": "quantitative"}, "text": {"field": "stat"}}},
{"mark": {"type": "text", "align": "right", "baseline": "middle", "font": "DejaVu Sans Mono", "fontSize": 24.7}, "encoding": {"x": {"datum": 747, "type": "quantitative"}, "text": {"field": "val"}}}
]}
]
}
],
"spacing": 20,
"center": true
}
